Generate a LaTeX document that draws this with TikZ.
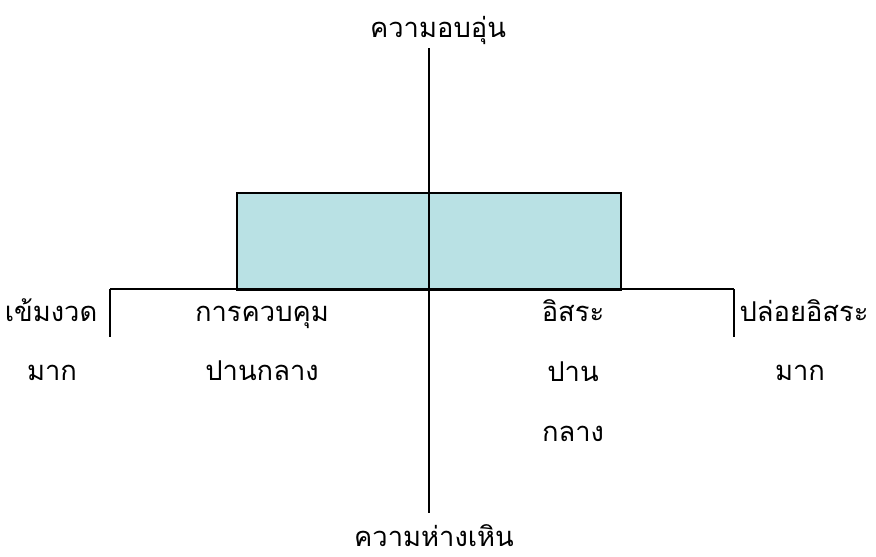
\documentclass[tikz,border=0pt]{standalone}
\usepackage{fontspec}
\newfontfamily\thaifont[Script=Thai]{Loma}
\definecolor{boxfill}{RGB}{185,225,228}
\begin{document}
\begin{tikzpicture}[x=0.75pt,y=-0.75pt,
  lbl/.style={font=\thaifont\fontsize{20.5}{24}\selectfont, inner sep=0pt, anchor=base},
  axis/.style={line width=1.5pt, black}]
\useasboundingbox (0,0) rectangle (876,557);
\node[draw=black, line width=1.2pt, fill=boxfill, minimum width=384*0.75pt, minimum height=97*0.75pt, inner sep=0pt, anchor=north west] (box) at (236,192) {};
\coordinate (vtop) at (429,48);
\coordinate (vbot) at (429,513);
\coordinate (hl) at (110,289);
\coordinate (hr) at (734,289);
\coordinate (tl) at (110,337);
\coordinate (tr) at (734,337);
\draw[axis] (hl) -- (hr);
\draw[axis] (vtop) -- (vbot);
\draw[axis] (hl) -- (tl);
\draw[axis] (hr) -- (tr);
\node[lbl] (top) at (438,37) {ความอบอุ่น};
\node[lbl] (bot) at (434,546) {ความห่างเหิน};
\node[lbl] (l1) at (51,321) {เข้มงวด};
\node[lbl] (l2) at (52,380) {มาก};
\node[lbl] (m1) at (262,321) {การควบคุม};
\node[lbl] (m2) at (262,380) {ปานกลาง};
\node[lbl] (n1) at (573,321) {อิสระ};
\node[lbl] (n2) at (573,381) {ปาน};
\node[lbl] (n3) at (573,441) {กลาง};
\node[lbl] (r1) at (804,321) {ปล่อยอิสระ};
\node[lbl] (r2) at (800,380) {มาก};
\end{tikzpicture}
\end{document}
